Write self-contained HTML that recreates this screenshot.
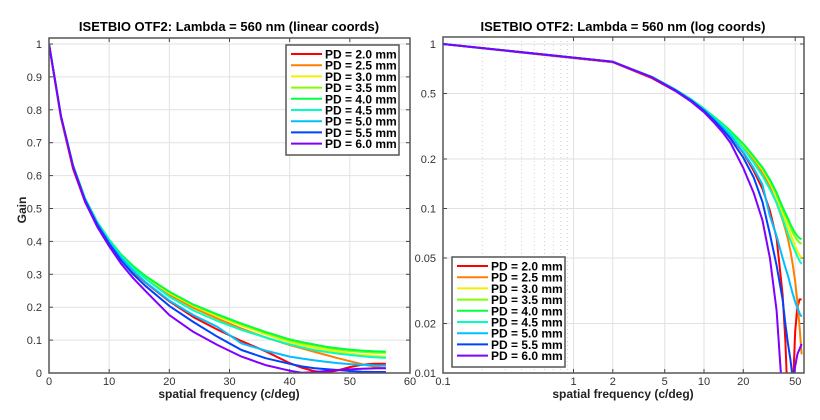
<!DOCTYPE html>
<html><head><meta charset="utf-8"><style>
html,body{margin:0;background:#fff;overflow:hidden;width:820px;height:420px;}
svg{display:block;font-family:"Liberation Sans",sans-serif;}
</style></head><body>
<svg id="fig" width="820" height="420" viewBox="0 0 820 420">
<defs>
<clipPath id="clipL"><rect x="49" y="38" width="361" height="335"/></clipPath>
<clipPath id="clipR"><rect x="443" y="37" width="361" height="336"/></clipPath>
</defs>
<g id="left"></g>
<g id="right"></g>
</svg>
<script>
const freqs=[0,2,4,6,8,10,12,14,16,20,24,28,32,36,40,42,44,46,48,50,52,54,56];
const seriesLabels=["PD = 2.0 mm","PD = 2.5 mm","PD = 3.0 mm","PD = 3.5 mm","PD = 4.0 mm","PD = 4.5 mm","PD = 5.0 mm","PD = 5.5 mm","PD = 6.0 mm"];
const pd20=[1,.775,.62,.52,.45,.395,.348,.308,.275,.218,.17,.132,.097,.066,.03,.016,.006,.001,.008,.018,.025,.028,.028];
const pd25=[1,.775,.625,.525,.455,.4,.355,.318,.288,.238,.198,.165,.135,.108,.085,.075,.065,.055,.045,.036,.027,.019,.013];
const pd30=[1,.78,.63,.53,.46,.403,.358,.322,.292,.243,.204,.172,.144,.118,.094,.085,.077,.07,.064,.059,.055,.052,.05];
const pd35=[1,.78,.63,.53,.46,.405,.36,.325,.295,.247,.207,.176,.148,.122,.099,.091,.084,.077,.071,.067,.064,.062,.061];
const pd40=[1,.78,.63,.53,.46,.405,.36,.325,.295,.247,.208,.178,.15,.125,.102,.094,.087,.08,.075,.071,.068,.066,.065];
const pd45=[1,.78,.63,.53,.46,.403,.355,.318,.287,.232,.19,.158,.131,.108,.087,.078,.07,.064,.059,.055,.051,.048,.046];
const pd50=[1,.78,.63,.528,.455,.398,.35,.31,.277,.22,.176,.14,.09,.068,.05,.044,.039,.034,.03,.027,.025,.023,.022];
const pd55=[1,.78,.628,.525,.452,.393,.342,.3,.265,.204,.155,.11,.07,.045,.028,.02,.015,.012,.009,.006,.004,.003,.003];
const pd60=[1,.78,.625,.52,.445,.385,.332,.288,.25,.176,.125,.085,.05,.024,.007,.001,.002,.006,.009,.011,.013,.014,.015];
const allSeries=[pd20,pd25,pd30,pd35,pd40,pd45,pd50,pd55,pd60];
const colors=["#ff0000","#ff8000","#f0f000","#80ff00","#00ff40","#00ffbf","#00bfff","#0040ff","#8000ff"];
const linXTicks=[0,10,20,30,40,50,60];
const linYTicks=[0,0.1,0.2,0.3,0.4,0.5,0.6,0.7,0.8,0.9,1];
const logXTicks=[0.1,1,2,5,10,20,50];
const logXMinor=[0.2,0.3,0.4,0.5,0.6,0.7,0.8,0.9];
const logYTicks=[0.01,0.02,0.05,0.1,0.2,0.5,1];

const NS="http://www.w3.org/2000/svg";
function mk(parent,tag,attrs,text){const e=document.createElementNS(NS,tag);for(const k in attrs)e.setAttribute(k,attrs[k]);if(text!==undefined)e.textContent=text;parent.appendChild(e);return e;}

const L={x0:49,x1:410,y0:373,y1:38};
const lx=v=>L.x0+(v-0)/(60)*(L.x1-L.x0);
const ly=v=>373-v*329;
const R={x0:443,x1:804,y0:373,y1:37};
const rx=v=>443+(Math.log10(v)+1)*130.5;
const ry=v=>373-(Math.log10(v)+2)*164.5;

function drawAxes(g,A,xt,yt,xf,yf,minor){
  mk(g,'rect',{x:A.x0,y:A.y1,width:A.x1-A.x0,height:A.y0-A.y1,fill:'#fff'});
  if(minor){minor.forEach(v=>{const l=mk(g,'line',{x1:xf(v),x2:xf(v),y1:A.y1,y2:A.y0,stroke:'#d0d0d0','stroke-dasharray':'1,3'});});}
  xt.forEach(v=>{const X=xf(v);const l=mk(g,'line',{x1:X,x2:X,y1:A.y1,y2:A.y0,stroke:'#e2e2e2'});
    mk(g,'line',{x1:X,x2:X,y1:A.y0,y2:A.y0-4,stroke:'#444'});mk(g,'line',{x1:X,x2:X,y1:A.y1,y2:A.y1+4,stroke:'#444'});
    const t=mk(g,'text',{x:X,y:A.y0+12,'font-size':'11','text-anchor':'middle',fill:'#333'},String(v));});
  yt.forEach(v=>{const Y=yf(v);const l=mk(g,'line',{x1:A.x0,x2:A.x1,y1:Y,y2:Y,stroke:'#e2e2e2'});
    mk(g,'line',{x1:A.x0,x2:A.x0+4,y1:Y,y2:Y,stroke:'#444'});mk(g,'line',{x1:A.x1,x2:A.x1-4,y1:Y,y2:Y,stroke:'#444'});
    const t=mk(g,'text',{x:A.x0-7,y:Y+4,'font-size':'11','text-anchor':'end',fill:'#333'},String(v));});
}
function drawSeries(g,clip,xf,yf,xmap){
  const cg=mk(g,'g',{'clip-path':'url(#'+clip+')'});
  allSeries.forEach((s,i)=>{
    const pts=s.map((v,j)=>xf(xmap(freqs[j])).toFixed(1)+','+yf(Math.max(v,1e-4)).toFixed(1)).join(' ');
    const p=mk(cg,'polyline',{points:pts,fill:'none',stroke:colors[i],'stroke-width':'2','stroke-linejoin':'round'});
    
    
  });
}
function frame(g,A){const r=mk(g,'rect',{x:A.x0,y:A.y1,width:A.x1-A.x0,height:A.y0-A.y1,fill:'none',stroke:'#555','stroke-width':'1.5'});}
function legend(g,x,y){
  const lg=mk(g,'g',{});
  mk(lg,'rect',{x:x,y:y,width:113,height:110,fill:'#fff',stroke:'#555','stroke-width':'1.5'});
  seriesLabels.forEach((lab,i)=>{const Y=y+9+i*11.2;
    const e=mk(lg,'g',{});
    mk(e,'line',{x1:x+5,x2:x+36,y1:Y,y2:Y,stroke:colors[i],'stroke-width':'2'});
    mk(e,'text',{x:x+39,y:Y+4.5,'font-size':'12','font-weight':'bold',fill:'#000'},lab);});
}
const gl=document.getElementById('left');
drawAxes(gl,L,linXTicks,linYTicks,lx,ly);
drawSeries(gl,'clipL',lx,ly,f=>f);
frame(gl,L);legend(gl,286,45);
let t=mk(gl,'text',{x:229,y:31,'font-size':'13','font-weight':'bold','text-anchor':'middle'},'ISETBIO OTF2: Lambda = 560 nm (linear coords)');
t=mk(gl,'text',{x:229,y:398,'font-size':'12','font-weight':'bold','text-anchor':'middle',fill:'#222'},'spatial frequency (c/deg)');
t=mk(gl,'text',{x:26,y:210,'font-size':'12','font-weight':'bold','text-anchor':'middle',fill:'#222',transform:'rotate(-90 26 210)'},'Gain');

const gr=document.getElementById('right');
drawAxes(gr,R,logXTicks,logYTicks,rx,ry,logXMinor);
drawSeries(gr,'clipR',rx,ry,f=>f===0?0.1:f);
frame(gr,R);legend(gr,452,257);
t=mk(gr,'text',{x:623,y:31,'font-size':'13','font-weight':'bold','text-anchor':'middle'},'ISETBIO OTF2: Lambda = 560 nm (log coords)');
t=mk(gr,'text',{x:623,y:398,'font-size':'12','font-weight':'bold','text-anchor':'middle',fill:'#222'},'spatial frequency (c/deg)');
</script>
</body></html>
